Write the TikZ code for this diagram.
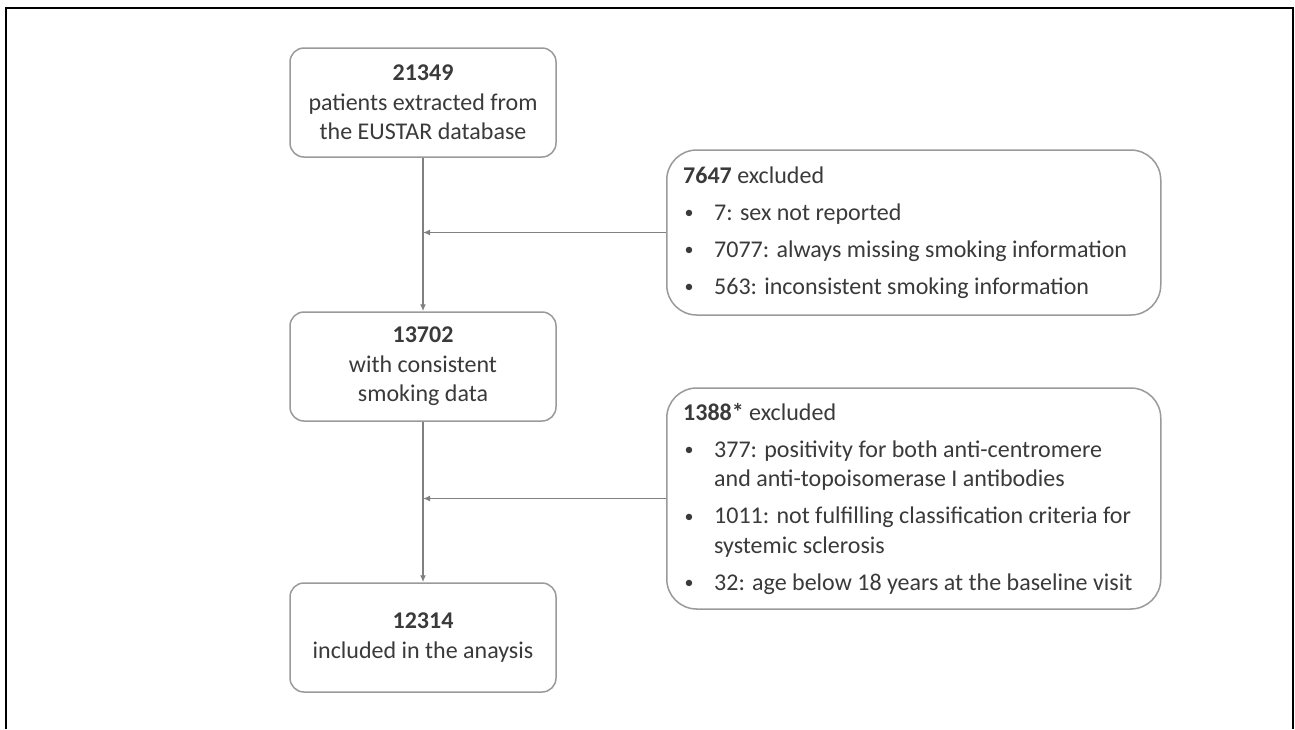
\documentclass[tikz,border=0pt]{standalone}
\usepackage{fontspec}
\setmainfont{Carlito}
\usetikzlibrary{arrows.meta}
\definecolor{txt}{HTML}{3A3A3A}
\definecolor{boxline}{HTML}{9A9A9A}
\definecolor{conline}{HTML}{808080}
\newcommand{\bul}{\makebox[31pt][l]{\hspace{1.5pt}\raisebox{1.5pt}{\scalebox{0.75}{\textbullet}}}}
\tikzset{
  mainbox/.style={draw=boxline, line width=1.5pt, rounded corners=14pt, minimum width=266pt, minimum height=109pt, align=center, text=txt, font=\fontsize{24}{29.5}\selectfont, inner sep=0pt},
  exbox/.style={draw=boxline, line width=1.5pt, rounded corners=30pt, minimum width=494pt, inner sep=0pt},
  extext/.style={align=left, text=txt, font=\fontsize{24}{29.5}\selectfont, inner sep=0pt, anchor=west},
  conn/.style={draw=conline, line width=1.4pt, -{Latex[length=7pt,width=6pt]}},
}
\begin{document}
\begin{tikzpicture}[x=1pt,y=-1pt]
\useasboundingbox (0,0) rectangle (1295,729);
\fill[white] (0,0) rectangle (1295,729);
\draw[line width=2.5pt, black] (6,729) -- (6,8) -- (1293,8) -- (1293,729);

\node[mainbox] (n1) at (423,102.5) {\textbf{21349}\\patients extracted from\\the EUSTAR database};
\node[mainbox] (n2) at (423,366.5) {\textbf{13702}\\with consistent\\smoking data};
\node[mainbox] (n3) at (423,637.5) {\textbf{12314}\\included in the anaysis};

\node[exbox, minimum height=165pt, anchor=west] (e1) at (666,232.5) {};
\node[extext] (t1) at ([xshift=17pt]e1.west) {\textbf{7647} excluded\\[7.5pt]
\bul 7: sex not reported\\[7.5pt]
\bul 7077: always missing smoking information\\[7.5pt]
\bul 563: inconsistent smoking information};

\node[exbox, minimum height=221pt, anchor=west] (e2) at (666,498.5) {};
\node[extext] (t2) at ([xshift=17pt]e2.west) {\textbf{1388*} excluded\\[7.5pt]
\bul 377: positivity for both anti-centromere\\
\hspace*{31pt}and anti-topoisomerase I antibodies\\[7.5pt]
\bul 1011: not fulfilling classification criteria for\\
\hspace*{31pt}systemic sclerosis\\[7.5pt]
\bul 32: age below 18 years at the baseline visit};

\draw[conn] (n1.south) -- (n2.north);
\draw[conn] (n2.south) -- (n3.north);
\draw[conn] (e1.west) -- (e1.west -| n1.south);
\draw[conn] (e2.west) -- (e2.west -| n2.south);
\end{tikzpicture}
\end{document}
